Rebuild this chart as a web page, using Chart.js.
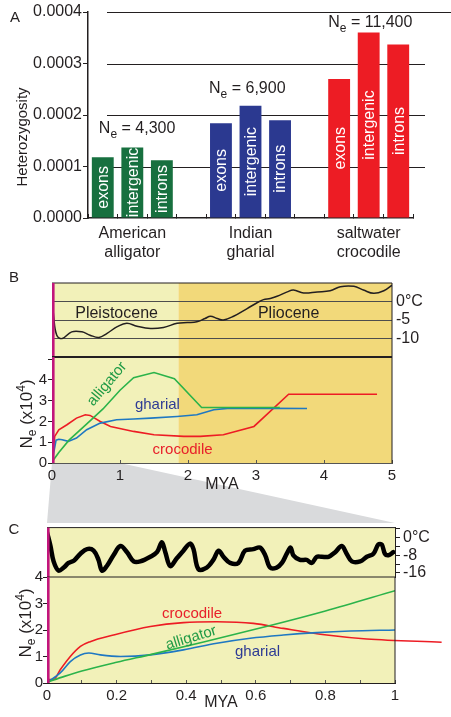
<!DOCTYPE html>
<html>
<head>
<meta charset="utf-8">
<script src="https://cdn.jsdelivr.net/npm/chart.js@4"></script>
<style>
    body { margin: 0; background: #fff; }
    #page { position: relative; width: 451px; height: 717px; overflow: hidden; }
    #page canvas { position: absolute; left: 0; }
</style>
</head>
<body>
<div id="page">
    <canvas id="chartA" width="451" height="262" style="top:0px"></canvas>
    <canvas id="chartBTemp" width="451" height="107" style="top:265px"></canvas>
    <canvas id="chartBNe" width="451" height="185" style="top:345px"></canvas>
    <canvas id="chartCTemp" width="451" height="76" style="top:515px"></canvas>
    <canvas id="chartCNe" width="451" height="152" style="top:565px"></canvas>
</div>
<script>
const FONT = "'Liberation Sans', Arial, sans-serif";
const INK = '#231f20';

// panel A: heterozygosity
const species = [['American', 'alligator'], ['Indian', 'gharial'], ['saltwater', 'crocodile']];
const regions = ['exons', 'intergenic', 'introns'];
const alligatorHet = [0.000118, 0.000137, 0.000112];
const gharialHet = [0.000184, 0.000218, 0.000190];
const crocodileHet = [0.000270, 0.000360, 0.000337];
const effectiveSizes = ['4,300', '6,900', '11,400'];
const hetTicks = [0, 0.0001, 0.0002, 0.0003, 0.0004];

// epochs (MYA)
const epochNames = ['Pleistocene', 'Pliocene'];
const epochStarts = [0, 1.86];
const epochEnds = [1.86, 5];

// panel B: temperature (°C) and Ne (x10^4) over 5 MYA
const tempB = [[0, 1.7], [0.025, -4.1], [0.07, -9.1], [0.15, -10.0], [0.29, -8.2], [0.44, -8.2],
    [0.56, -9.1], [0.69, -9.7], [0.81, -8.6], [0.96, -6.8], [1.1, -5.9], [1.25, -6.7], [1.45, -7.3],
    [1.64, -7.0], [1.84, -5.9], [1.99, -5.7], [2.13, -5.5], [2.25, -4.6], [2.33, -4.0], [2.43, -4.6],
    [2.52, -5.0], [2.67, -4.0], [2.87, -1.9], [3.01, -0.4], [3.11, 0.5], [3.21, 0.8], [3.31, 1.4],
    [3.46, 2.6], [3.55, 3.1], [3.7, 2.3], [3.9, 2.6], [4.09, 2.9], [4.24, 4.0], [4.44, 4.1],
    [4.58, 3.1], [4.73, 2.2], [4.88, 2.9], [5.0, 4.4]];
const alligatorB = [[0, 0.05], [0.1, 0.5], [0.25, 1.1], [0.5, 1.85], [0.75, 2.6], [1.0, 3.5], [1.2, 4.1],
    [1.5, 4.35], [1.8, 4.05], [2.2, 2.67], [3.35, 2.67]];
const gharialB = [[0, 0.05], [0.06, 1.1], [0.1, 1.14], [0.15, 1.12], [0.24, 1.04], [0.36, 1.2], [0.51, 1.6],
    [0.71, 1.92], [0.95, 2.08], [1.2, 2.12], [1.45, 2.16], [1.84, 2.24], [2.13, 2.32], [2.38, 2.56],
    [2.62, 2.64], [3.75, 2.62]];
const crocodileB = [[0, 0], [0.04, 1.28], [0.1, 1.6], [0.22, 1.84], [0.36, 2.16], [0.49, 2.32], [0.56, 2.29],
    [0.71, 2.0], [0.86, 1.76], [1.2, 1.52], [1.5, 1.36], [1.94, 1.28], [2.18, 1.28], [2.52, 1.36],
    [2.97, 1.76], [3.48, 3.31], [4.78, 3.31]];

// panel C: the last 1 MYA
const tempC = [[0, 2.5], [0.01, -3.8], [0.019, -10.8], [0.033, -15.0], [0.048, -13.6], [0.062, -11.5],
    [0.077, -10.5], [0.096, -7.3], [0.115, -5.2], [0.134, -5.9], [0.148, -10.1], [0.158, -15.0],
    [0.172, -12.9], [0.191, -8.0], [0.211, -3.8], [0.23, -6.6], [0.249, -10.8], [0.268, -10.8],
    [0.297, -8.7], [0.316, -6.6], [0.33, -2.1], [0.34, -6.6], [0.354, -12.9], [0.373, -9.4],
    [0.392, -5.9], [0.411, -2.7], [0.421, -5.2], [0.435, -14.3], [0.459, -13.6], [0.478, -10.1],
    [0.493, -5.9], [0.507, -8.7], [0.526, -11.5], [0.55, -11.5], [0.569, -5.9], [0.593, -5.2],
    [0.612, -4.5], [0.627, -8.0], [0.641, -13.6], [0.66, -13.6], [0.675, -11.5], [0.689, -7.3],
    [0.7, -4.5], [0.708, -8.0], [0.727, -10.1], [0.746, -10.1], [0.761, -11.5], [0.775, -8.7],
    [0.79, -8.7], [0.809, -8.7], [0.828, -6.6], [0.847, -3.8], [0.861, -7.3], [0.876, -10.8],
    [0.9, -10.8], [0.919, -8.7], [0.938, -7.3], [0.952, -3.1], [0.962, -3.1], [0.971, -7.3],
    [0.981, -8.0], [0.995, -6.6]];
const alligatorC = [[0, 0.03], [0.05, 0.25], [0.1, 0.45], [0.2, 0.78], [0.3, 1.08], [0.45, 1.55],
    [0.65, 2.2], [0.8, 2.72], [1.0, 3.48]];
const gharialC = [[0.005, 0.06], [0.038, 0.38], [0.067, 0.81], [0.096, 1.06], [0.12, 1.13], [0.153, 1.06],
    [0.211, 1.0], [0.297, 1.06], [0.392, 1.25], [0.488, 1.5], [0.584, 1.69], [0.679, 1.81],
    [0.775, 1.9], [0.871, 1.96], [1.0, 2.0]];
// the crocodile curve runs on past the right edge of the panel
const crocodileC = [[0.005, 0.13], [0.019, 0.13], [0.038, 0.5], [0.067, 1.0], [0.096, 1.38], [0.124, 1.56],
    [0.191, 1.81], [0.297, 2.13], [0.392, 2.28], [0.488, 2.31], [0.593, 2.25], [0.679, 2.06],
    [0.804, 1.81], [0.919, 1.66], [1.134, 1.54]];
const tempTicksC = [4, 0, -4, -8, -12, -16];
const tempLabelsC = [0, -8, -16];

const barColors3 = ['#17703f', '#2b3990', '#ed1c24'];
const lineColors = { alligator: '#2bb34a', gharial: '#1f78c2', crocodile: '#ed1c24' };
const labelColors = { alligator: '#1f9a45', gharial: '#2e3b94', crocodile: '#e8202a' };
const epochColors = ['#f2f1b9', '#f2d97a'];
const MAGENTA = '#c2157c';

// where panel C sits on the page (for the grey zoom wedge)
const C_TOP = 523, C_LEFT = 47, C_RIGHT = 395;
const B_NE_CANVAS_TOP = 345;

Chart.defaults.font.family = FONT;
Chart.defaults.color = INK;

function pts(arr) {
    return arr.map(p => ({ x: p[0], y: p[1] }));
}

// draws text made of pieces of different size (sub/superscripts)
function drawRich(ctx, parts, x, y, angle, align, color) {
    ctx.save();
    ctx.translate(x, y);
    ctx.rotate(angle || 0);
    ctx.fillStyle = color || INK;
    ctx.textBaseline = 'alphabetic';
    ctx.textAlign = 'left';
    let total = 0;
    for (const p of parts) {
        ctx.font = p.size + 'px ' + FONT;
        p.w = ctx.measureText(p.t).width;
        total += p.w;
    }
    let cx = align === 'center' ? -total / 2 : 0;
    for (const p of parts) {
        ctx.font = p.size + 'px ' + FONT;
        ctx.fillText(p.t, cx, p.dy || 0);
        cx += p.w;
    }
    ctx.restore();
}

function neTitle(ctx, x, y) {
    drawRich(ctx, [
        { t: 'N', size: 17 },
        { t: 'e', size: 12, dy: 4 },
        { t: ' (x10', size: 17 },
        { t: '4', size: 12, dy: -7 },
        { t: ')', size: 17 },
    ], x, y, -Math.PI / 2, 'center');
}

function panelLetter(ctx, letter, x, y) {
    ctx.save();
    ctx.font = '15px ' + FONT;
    ctx.fillStyle = INK;
    ctx.textAlign = 'center';
    ctx.textBaseline = 'middle';
    ctx.fillText(letter, x, y);
    ctx.restore();
}

// ---------- panel A ----------
const catLabels = [], hetData = [], barColors = [], barLabels = [];
[alligatorHet, gharialHet, crocodileHet].forEach((vals, g) => {
    regions.forEach((r, k) => {
        catLabels.push(r);
        hetData.push(vals[k]);
        barColors.push(barColors3[g]);
        barLabels.push(r);
    });
    if (g < 2) {
        catLabels.push('');
        hetData.push(null);
        barColors.push('rgba(0,0,0,0)');
        barLabels.push('');
    }
});

// horizontal rules of panel A start a bit right of the axis, as in the figure
const hetGrid = {
    id: 'hetGrid',
    beforeDatasetsDraw(chart) {
        const { ctx, chartArea: a } = chart;
        const y = chart.scales.y;
        ctx.save();
        ctx.strokeStyle = INK;
        ctx.lineWidth = 1;
        hetTicks.forEach(v => {
            if (v === 0) return;
            const py = Math.round(y.getPixelForValue(v)) + 0.5;
            ctx.beginPath();
            ctx.moveTo(a.left + 19, py);
            ctx.lineTo(v === hetTicks[hetTicks.length - 1] ? chart.width : a.right + 12, py);
            ctx.stroke();
        });
        ctx.restore();
    }
};

const panelAText = {
    id: 'panelAText',
    afterDatasetsDraw(chart) {
        const ctx = chart.ctx;
        const meta = chart.getDatasetMeta(0);
        ctx.save();
        ctx.fillStyle = '#fff';
        ctx.font = '16px ' + FONT;
        ctx.textAlign = 'center';
        ctx.textBaseline = 'middle';
        meta.data.forEach((bar, i) => {
            if (!barLabels[i]) return;
            ctx.save();
            ctx.translate(bar.x + 1, (bar.y + bar.base) / 2);
            ctx.rotate(-Math.PI / 2);
            ctx.fillText(barLabels[i], 0, 0);
            ctx.restore();
        });
        ctx.restore();

        // Ne labels above each species group
        const y = chart.scales.y;
        const neLabelAt = [0.000165, 0.000243, 0.000371];
        const dx = [7, -1, 0];
        effectiveSizes.forEach((ne, g) => {
            const bar = meta.data[g * 4];
            drawRich(ctx, [
                { t: 'N', size: 16 },
                { t: 'e', size: 12, dy: 5 },
                { t: ' = ' + ne, size: 16 },
            ], bar.x - bar.width / 2 + dx[g], y.getPixelForValue(neLabelAt[g]), 0, 'left');
        });

        drawRich(ctx, [{ t: 'Heterozygosity', size: 15 }], 27, 137, -Math.PI / 2, 'center');
        panelLetter(ctx, 'A', 15, 18);
    }
};

new Chart(document.getElementById('chartA'), {
    type: 'bar',
    data: {
        labels: catLabels,
        datasets: [{
            data: hetData,
            backgroundColor: barColors,
            borderWidth: 0,
            barPercentage: 0.74,
            categoryPercentage: 1.0,
        }]
    },
    options: {
        responsive: false,
        animation: false,
        events: [],
        layout: { padding: { top: 12, right: 38, bottom: 0, left: 0 } },
        plugins: { legend: { display: false }, tooltip: { enabled: false } },
        scales: {
            x: {
                afterFit: s => { s.height = 44; },
                grid: { drawOnChartArea: false, tickLength: -4, color: INK, lineWidth: 1 },
                border: { color: INK, width: 1.5 },
                ticks: {
                    autoSkip: false,
                    maxRotation: 0,
                    padding: 10,
                    font: { size: 16 },
                    color: INK,
                    callback: (v, i) => (i % 4 === 1 ? species[Math.floor(i / 4)] : ''),
                }
            },
            y: {
                min: 0,
                max: 0.0004,
                afterFit: s => { s.width = 88; },
                afterBuildTicks: s => { s.ticks = hetTicks.map(v => ({ value: v })); },
                grid: { drawOnChartArea: false, color: INK, lineWidth: 1, tickLength: 5 },
                border: { color: INK, width: 1.5 },
                ticks: {
                    autoSkip: false,
                    padding: 1,
                    font: { size: 16 },
                    color: INK,
                    callback: v => v.toFixed(4),
                }
            }
        }
    },
    plugins: [hetGrid, panelAText]
});

// ---------- shared plugins for panels B and C ----------
const epochBands = {
    id: 'epochBands',
    beforeDraw(chart) {
        const { ctx, chartArea: a } = chart;
        const x = chart.scales.x;
        ctx.save();
        epochNames.forEach((name, i) => {
            const x1 = Math.max(a.left, x.getPixelForValue(epochStarts[i]));
            const x2 = Math.min(a.right, x.getPixelForValue(epochEnds[i]));
            if (x2 <= x1) return;
            ctx.fillStyle = epochColors[i];
            ctx.fillRect(x1, a.top, x2 - x1, a.bottom - a.top);
        });
        ctx.restore();
    }
};

const frame = {
    id: 'frame',
    afterDraw(chart, args, opts) {
        const { ctx, chartArea: a } = chart;
        ctx.save();
        if (opts.top) {
            ctx.strokeStyle = INK;
            ctx.lineWidth = opts.top;
            ctx.beginPath();
            ctx.moveTo(a.left, a.top);
            ctx.lineTo(a.right, a.top);
            ctx.stroke();
        }
        if (opts.right) {
            ctx.strokeStyle = INK;
            ctx.lineWidth = opts.right;
            ctx.beginPath();
            ctx.moveTo(a.right, a.top);
            ctx.lineTo(a.right, a.bottom);
            ctx.stroke();
        }
        // magenta present-day bar
        ctx.strokeStyle = MAGENTA;
        ctx.lineWidth = 2.6;
        ctx.beginPath();
        ctx.moveTo(a.left + 1.3, a.top);
        ctx.lineTo(a.left + 1.3, a.bottom);
        ctx.stroke();
        ctx.restore();
    }
};

// text notes placed in data coordinates
const notes = {
    id: 'notes',
    afterDatasetsDraw(chart, args, opts) {
        const ctx = chart.ctx;
        const x = chart.scales.x, y = chart.scales[opts.axis || 'y'];
        for (const n of (opts.items || [])) {
            ctx.save();
            ctx.translate(x.getPixelForValue(n.x), y.getPixelForValue(n.y));
            ctx.rotate((n.angle || 0) * Math.PI / 180);
            ctx.font = (n.size || 15) + 'px ' + FONT;
            ctx.fillStyle = n.color || INK;
            ctx.textAlign = 'center';
            ctx.textBaseline = 'middle';
            ctx.fillText(n.text, 0, 0);
            ctx.restore();
        }
        if (opts.neTitle) neTitle(ctx, opts.neTitle[0], opts.neTitle[1]);
        if (opts.letter) panelLetter(ctx, opts.letter[0], opts.letter[1], opts.letter[2]);
    }
};

function neLine(data, color, extra) {
    return Object.assign({
        data: pts(data),
        borderColor: color,
        borderWidth: 1.6,
        pointRadius: 0,
        fill: false,
    }, extra || {});
}

const baseOpts = {
    responsive: false,
    animation: false,
    events: [],
};

// ---------- panel B: temperature ----------
new Chart(document.getElementById('chartBTemp'), {
    type: 'line',
    data: {
        datasets: [{
            data: pts(tempB),
            borderColor: INK,
            borderWidth: 1.5,
            pointRadius: 0,
            tension: 0.4,
        }]
    },
    options: Object.assign({}, baseOpts, {
        layout: { padding: { top: 18, left: 52, right: 0, bottom: 15 } },
        plugins: {
            legend: { display: false },
            tooltip: { enabled: false },
            frame: { top: 1, right: 1 },
            notes: {
                items: [
                    { text: epochNames[0], x: 0.95, y: -3.4, size: 16 },
                    { text: epochNames[1], x: 3.48, y: -3.4, size: 16 },
                ],
                letter: ['B', 14, 13],
            }
        },
        scales: {
            x: { type: 'linear', min: 0, max: 5, display: false },
            y: {
                position: 'right',
                min: -15,
                max: 5,
                afterFit: s => { s.width = 59; },
                grid: {
                    drawTicks: false,
                    color: c => ([0, -5, -10].includes(c.tick.value) ? '#4d4d4d' : 'rgba(0,0,0,0)'),
                    lineWidth: 1,
                },
                border: { display: false },
                ticks: {
                    autoSkip: false,
                    stepSize: 5,
                    padding: 4,
                    font: { size: 16 },
                    color: INK,
                    callback: v => (v === 0 ? '0\u00b0C' : (v === -5 || v === -10) ? String(v) : ''),
                }
            }
        }
    }),
    plugins: [epochBands, frame, notes]
});

// ---------- panel B: Ne ----------
const zoomWedge = {
    id: 'zoomWedge',
    beforeDraw(chart) {
        const { ctx, chartArea: a } = chart;
        const x = chart.scales.x;
        const cTop = C_TOP - B_NE_CANVAS_TOP;
        ctx.save();
        ctx.fillStyle = '#d9dadc';
        ctx.beginPath();
        ctx.moveTo(x.getPixelForValue(0), a.bottom);
        ctx.lineTo(x.getPixelForValue(1), a.bottom);
        ctx.lineTo(C_RIGHT, cTop);
        ctx.lineTo(C_LEFT, cTop);
        ctx.closePath();
        ctx.fill();
        ctx.restore();
    }
};

new Chart(document.getElementById('chartBNe'), {
    type: 'line',
    data: {
        datasets: [
            neLine(alligatorB, lineColors.alligator),
            neLine(gharialB, lineColors.gharial),
            neLine(crocodileB, lineColors.crocodile),
        ]
    },
    options: Object.assign({}, baseOpts, {
        layout: { padding: { top: 12, left: 0, right: 59, bottom: 36 } },
        plugins: {
            legend: { display: false },
            tooltip: { enabled: false },
            frame: { top: 2, right: 1 },
            notes: {
                items: [
                    { text: 'alligator', x: 0.81, y: 3.8, color: labelColors.alligator, angle: -50 },
                    { text: 'gharial', x: 1.55, y: 2.8, color: labelColors.gharial },
                    { text: 'crocodile', x: 1.92, y: 0.64, color: labelColors.crocodile },
                ],
                neTitle: [32, 69],
            }
        },
        scales: {
            x: {
                type: 'linear',
                min: 0,
                max: 5,
                afterFit: s => { s.height = 31; },
                grid: { drawOnChartArea: false, tickLength: -3, color: '#555' },
                border: { color: '#555', width: 1 },
                ticks: { autoSkip: false, stepSize: 1, padding: 7, font: { size: 15 }, color: INK },
                title: { display: true, text: 'MYA', font: { size: 16 }, color: INK, padding: 0 },
            },
            y: {
                min: 0,
                max: 5.1,
                afterFit: s => { s.width = 52; },
                afterBuildTicks: s => { s.ticks = [0, 1, 2, 3, 4, 5].map(v => ({ value: v })); },
                grid: { drawOnChartArea: false, tickLength: 4, color: INK },
                border: { display: false },
                ticks: { autoSkip: false, padding: 1, font: { size: 15 }, color: INK, callback: v => (v <= 4 ? String(v) : '') },
            }
        }
    }),
    plugins: [zoomWedge, epochBands, frame, notes]
});

// ---------- panel C: temperature ----------
new Chart(document.getElementById('chartCTemp'), {
    type: 'line',
    data: {
        datasets: [{
            data: pts(tempC),
            borderColor: '#000',
            borderWidth: 4.5,
            pointRadius: 0,
            tension: 0.35,
            borderCapStyle: 'round',
            borderJoinStyle: 'round',
        }]
    },
    options: Object.assign({}, baseOpts, {
        layout: { padding: { top: 8, left: 47, right: 0, bottom: 14 } },
        plugins: {
            legend: { display: false },
            tooltip: { enabled: false },
            frame: { top: 1 },
            notes: { letter: ['C', 14, 15] },
        },
        scales: {
            x: { type: 'linear', min: 0, max: 1, display: false },
            y: {
                position: 'right',
                min: -17.9,
                max: 4.6,
                afterFit: s => { s.width = 56; },
                afterBuildTicks: s => { s.ticks = tempTicksC.map(v => ({ value: v })); },
                grid: { drawOnChartArea: false, tickLength: 5, color: INK },
                border: { color: INK, width: 1 },
                ticks: {
                    autoSkip: false,
                    padding: 3,
                    font: { size: 16 },
                    color: INK,
                    callback: v => (tempLabelsC.includes(v) ? (v === 0 ? '0\u00b0C' : String(v)) : ''),
                }
            }
        }
    }),
    plugins: [epochBands, frame, notes]
});

// ---------- panel C: Ne ----------
new Chart(document.getElementById('chartCNe'), {
    type: 'line',
    data: {
        datasets: [
            neLine(alligatorC, lineColors.alligator, { cubicInterpolationMode: 'monotone' }),
            neLine(gharialC, lineColors.gharial, { cubicInterpolationMode: 'monotone' }),
            neLine(crocodileC, lineColors.crocodile, { cubicInterpolationMode: 'monotone', clip: false }),
        ]
    },
    options: Object.assign({}, baseOpts, {
        layout: { padding: { top: 12, left: 0, right: 56, bottom: 0 } },
        plugins: {
            legend: { display: false },
            tooltip: { enabled: false },
            frame: { top: 1, right: 1 },
            notes: {
                items: [
                    { text: 'crocodile', x: 0.417, y: 2.6, color: labelColors.crocodile },
                    { text: 'alligator', x: 0.414, y: 1.7, color: labelColors.alligator, angle: -17 },
                    { text: 'gharial', x: 0.605, y: 1.17, color: labelColors.gharial },
                ],
                neTitle: [31, 58],
            }
        },
        scales: {
            x: {
                type: 'linear',
                min: 0,
                max: 1,
                afterFit: s => { s.height = 34; },
                grid: { drawOnChartArea: false, tickLength: -3, color: '#555' },
                border: { color: INK, width: 1 },
                ticks: {
                    autoSkip: false,
                    stepSize: 0.1,
                    padding: 7,
                    font: { size: 15 },
                    color: INK,
                    callback: (v, i) => (i % 2 === 0 ? (v === 0 || v === 1 ? String(v) : v.toFixed(1)) : ''),
                },
                title: { display: true, text: 'MYA', font: { size: 16 }, color: INK, padding: { top: 0, bottom: 5 } },
            },
            y: {
                min: 0,
                max: 4,
                afterFit: s => { s.width = 47; },
                grid: { drawOnChartArea: false, tickLength: 4, color: INK },
                border: { display: false },
                ticks: { autoSkip: false, stepSize: 1, padding: 0, font: { size: 15 }, color: INK },
            }
        }
    }),
    plugins: [epochBands, frame, notes]
});
</script>
</body>
</html>
